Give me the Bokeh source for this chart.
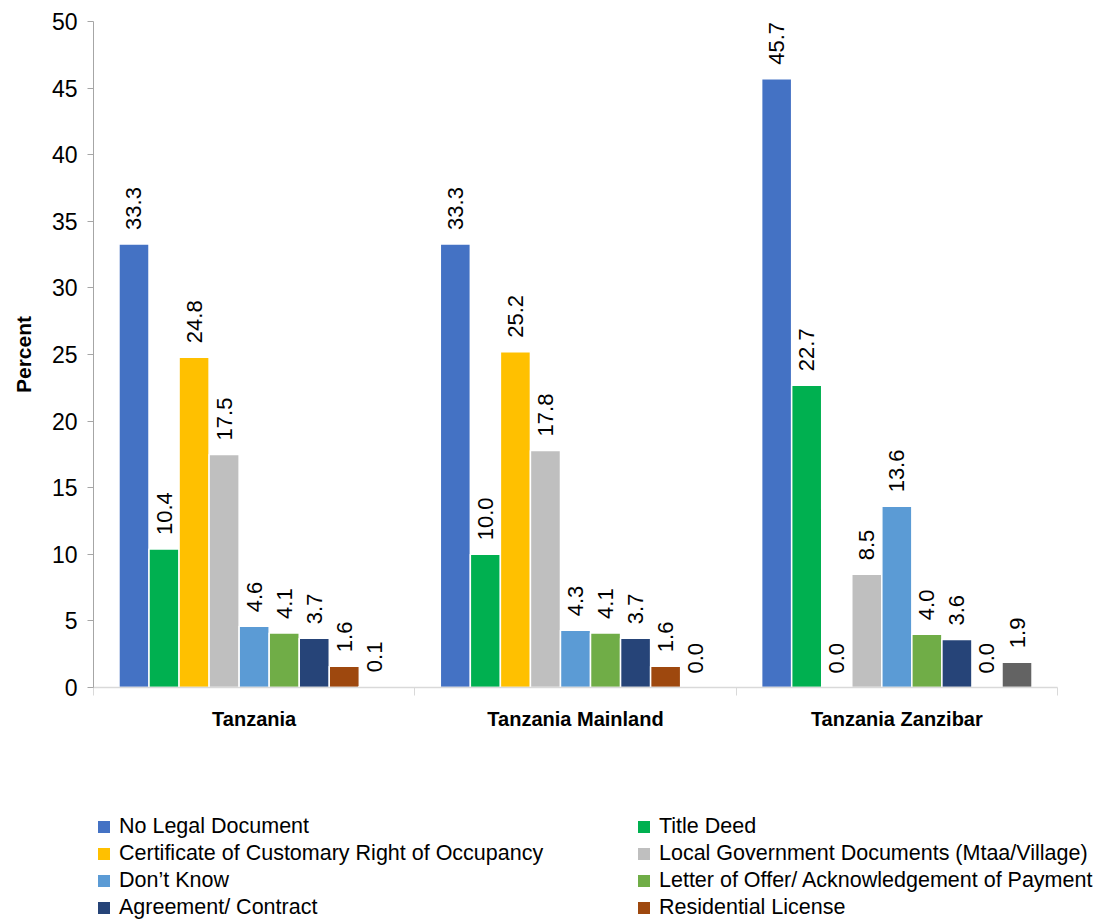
import math
from bokeh.plotting import figure
from bokeh.layouts import column
from bokeh.models import ColumnDataSource, Range1d, FixedTicker, Legend, LegendItem
from bokeh.core.properties import value
from bokeh.embed import file_html
from bokeh.resources import INLINE

groups = ["Tanzania", "Tanzania Mainland", "Tanzania Zanzibar"]

series_names = [
    "No Legal Document",
    "Title Deed",
    "Certificate of Customary Right of Occupancy",
    "Local Government Documents (Mtaa/Village)",
    "Don\u2019t Know",
    "Letter of Offer/ Acknowledgement of Payment",
    "Agreement/ Contract",
    "Residential License",
    "Other",
]

no_legal_document = [33.3, 33.3, 45.7]
title_deed = [10.4, 10.0, 22.7]
ccro = [24.8, 25.2, 0.0]
local_government_docs = [17.5, 17.8, 8.5]
dont_know = [4.6, 4.3, 13.6]
letter_of_offer = [4.1, 4.1, 4.0]
agreement_contract = [3.7, 3.7, 3.6]
residential_license = [1.6, 1.6, 0.0]
other = [0.1, 0.0, 1.9]

series_values = [no_legal_document, title_deed, ccro, local_government_docs,
                 dont_know, letter_of_offer, agreement_contract,
                 residential_license, other]

colors = ["#4472C4", "#00B050", "#FFC000", "#BFBFBF", "#5B9BD5",
          "#70AD47", "#264478", "#9E480E", "#636363"]

y_ticks = [0, 5, 10, 15, 20, 25, 30, 35, 40, 45, 50]

FONT = "Liberation Sans"

p = figure(width=1062, height=760,
           x_range=Range1d(0, 3), y_range=Range1d(0, 50),
           output_backend="svg", toolbar_location=None,
           min_border_left=93, min_border_right=5,
           min_border_top=21, min_border_bottom=73)

p.outline_line_color = None
p.grid.grid_line_color = None
p.background_fill_color = "white"
p.border_fill_color = "white"

n = len(series_values)
slot = 0.0935
sources = []
for i, (name, vals, col) in enumerate(zip(series_names, series_values, colors)):
    xs = [g + 0.5 + (i - (n - 1) / 2) * slot for g in range(len(groups))]
    src = ColumnDataSource(dict(x=xs, top=vals, label=["%.1f" % v for v in vals]))
    sources.append(src)
    p.vbar(x="x", top="top", bottom=0, width=slot, source=src,
           fill_color=col, line_color="white", line_width=1.5)
    p.text(x="x", y="top", text="label", source=src, angle=math.pi / 2,
           text_align="left", text_baseline="middle", y_offset=-14,
           text_font=value(FONT), text_font_size="22px", text_color="black")

# x axis
xa = p.xaxis[0]
xa.ticker = FixedTicker(ticks=[g + 0.5 for g in range(len(groups))],
                        minor_ticks=list(range(len(groups) + 1)))
xa.major_label_overrides = {g + 0.5: name for g, name in enumerate(groups)}
xa.major_tick_out = 0
xa.major_tick_in = 0
xa.minor_tick_out = 8
xa.minor_tick_in = 0
xa.minor_tick_line_color = "#d9d9d9"
xa.axis_line_color = "#d9d9d9"
xa.axis_line_width = 1.5
xa.major_label_standoff = 12
xa.major_label_text_font = FONT
xa.major_label_text_font_style = "bold"
xa.major_label_text_font_size = "20px"
xa.major_label_text_color = "black"

# y axis
ya = p.yaxis[0]
ya.ticker = FixedTicker(ticks=y_ticks)
ya.minor_tick_line_color = None
ya.major_tick_out = 6
ya.major_tick_in = 0
ya.major_tick_line_color = "#a6a6a6"
ya.axis_line_color = "#a6a6a6"
ya.major_label_standoff = 10
ya.major_label_text_font = FONT
ya.major_label_text_font_size = "23px"
ya.major_label_text_color = "black"
ya.axis_label = "Percent"
ya.axis_label_text_font = FONT
ya.axis_label_text_font_style = "bold"
ya.axis_label_text_font_size = "21px"
ya.axis_label_text_color = "black"
ya.axis_label_standoff = 14

# legend strip below the chart
lf = figure(width=1107, height=162, x_range=Range1d(0, 3), y_range=Range1d(0, 50),
            output_backend="svg", toolbar_location=None,
            x_axis_location=None, y_axis_location=None,
            min_border_left=93, min_border_right=0,
            min_border_top=51, min_border_bottom=0)
lf.outline_line_color = None
lf.grid.grid_line_color = None

legend_renderers = []
for i in range(8):
    r = lf.vbar(x="x", top="top", bottom=0, width=slot, source=sources[i],
                fill_color=colors[i], line_color=None, visible=False)
    legend_renderers.append(r)

order = [0, 2, 4, 6, 1, 3, 5, 7]  # row-major reading in a 2-column legend
items = [LegendItem(label=series_names[i], renderers=[legend_renderers[i]]) for i in order]

legend = Legend(items=items, location="top_left", ncols=2,
                border_line_color=None, background_fill_alpha=0,
                inactive_fill_alpha=0,
                padding=0, margin=3, spacing=2,
                glyph_width=15, glyph_height=15, label_standoff=8,
                label_width=515, label_height=20,
                label_text_font=FONT, label_text_font_size="21.5px",
                label_text_color="black")
lf.add_layout(legend, "center")

layout = column(p, lf, spacing=0)
open("out.html", "w").write(file_html(layout, INLINE))
